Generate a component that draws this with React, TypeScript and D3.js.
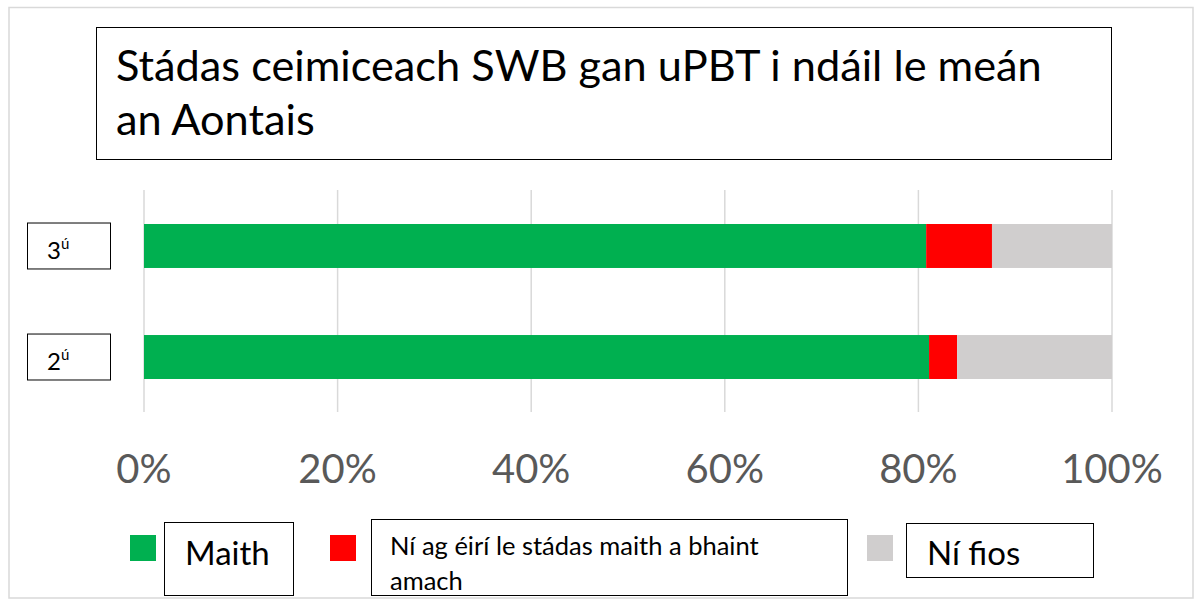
import React from "react";
import * as d3 from "d3";

const categories = ["3", "2"];
const categorySup = ["ú", "ú"];
const seriesNames = ["Maith", "Ní ag éirí le stádas maith a bhaint amach", "Ní fios"];
const maith = [80.8, 81.1];
const niAgEiri = [6.8, 2.9];
const niFios = [12.4, 16.0];
const tickValues = [0, 20, 40, 60, 80, 100];
const colors = ["#00B050", "#FF0000", "#D0CECE"];
const titleLines = ["Stádas ceimiceach SWB gan uPBT i ndáil le meán", "an Aontais"];
const legendLines = ["Ní ag éirí le stádas maith a bhaint", "amach"];

const FONT = "Lato, 'Open Sans', sans-serif";

export default function App() {
  const x = d3.scaleLinear().domain([0, 100]).range([144, 1112]);
  const y = d3.scaleBand().domain(categories).range([168.5, 434.5]).paddingInner(0.604).paddingOuter(0.5);

  const rows = categories.map((c, i) => {
    const vals = [maith[i], niAgEiri[i], niFios[i]];
    let acc = 0;
    const segs = vals.map((v, k) => {
      const s = { x0: acc, x1: acc + v, color: colors[k] };
      acc += v;
      return s;
    });
    return { c, sup: categorySup[i], segs };
  });

  const bw = y.bandwidth();

  return (
    <svg width={1198} height={609} style={{ position: "absolute", left: 0, top: 0, background: "#fff" }}>
      <rect x={0} y={0} width={1198} height={609} fill="#fff" />
      <rect x={9} y={7.5} width={1184} height={590.5} fill="#fff" stroke="#d9d9d9" strokeWidth={1.5} />

      {/* title */}
      <rect x={96.5} y={27.5} width={1015} height={132} fill="#fff" stroke="#000" strokeWidth={1} />
      <text x={116} y={81} fontFamily={FONT} fontSize={43.3} fill="#000">{titleLines[0]}</text>
      <text x={116} y={135} fontFamily={FONT} fontSize={43.3} fill="#000">{titleLines[1]}</text>

      {/* gridlines */}
      {tickValues.map((t) => (
        <line key={t} x1={x(t)} x2={x(t)} y1={190} y2={412} stroke="#d9d9d9" strokeWidth={1.5} />
      ))}

      {/* bars */}
      {rows.map((r) => (
        <g key={r.c}>
          {r.segs.map((s, k) => (
            <rect key={k} x={x(s.x0)} y={y(r.c)!} width={x(s.x1) - x(s.x0)} height={bw} fill={s.color} />
          ))}
          <rect x={27.5} y={y(r.c)! - 1} width={83} height={bw + 2} fill="#fff" stroke="#000" strokeWidth={1} />
          <text x={47} y={y(r.c)! + bw / 2 + 13} fontFamily={FONT} fontSize={24} fill="#000">
            {r.c}
            <tspan fontSize={15} dy={-10}>{r.sup}</tspan>
          </text>
        </g>
      ))}

      {/* tick labels */}
      {tickValues.map((t) => (
        <text key={t} x={x(t)} y={483} textAnchor="middle" fontFamily={FONT} fontSize={40} fill="#595959">
          {t}%
        </text>
      ))}

      {/* legend */}
      <rect x={130} y={535} width={26} height={26} fill={colors[0]} />
      <rect x={164.5} y={522.5} width={129} height={73} fill="#fff" stroke="#000" strokeWidth={1} />
      <text x={185} y={565} fontFamily={FONT} fontSize={33} fill="#000">{seriesNames[0]}</text>

      <rect x={330} y={535} width={26} height={26} fill={colors[1]} />
      <rect x={371.5} y={519.5} width={476} height={76} fill="#fff" stroke="#000" strokeWidth={1} />
      <text x={390} y={555} fontFamily={FONT} fontSize={25.5} fill="#000">{legendLines[0]}</text>
      <text x={390} y={590} fontFamily={FONT} fontSize={25.5} fill="#000">{legendLines[1]}</text>

      <rect x={867} y={535} width={26} height={26} fill={colors[2]} />
      <rect x={906.5} y={523.5} width={187} height={54} fill="#fff" stroke="#000" strokeWidth={1} />
      <text x={927} y={565} fontFamily={FONT} fontSize={33} fill="#000">{seriesNames[2]}</text>
    </svg>
  );
}
